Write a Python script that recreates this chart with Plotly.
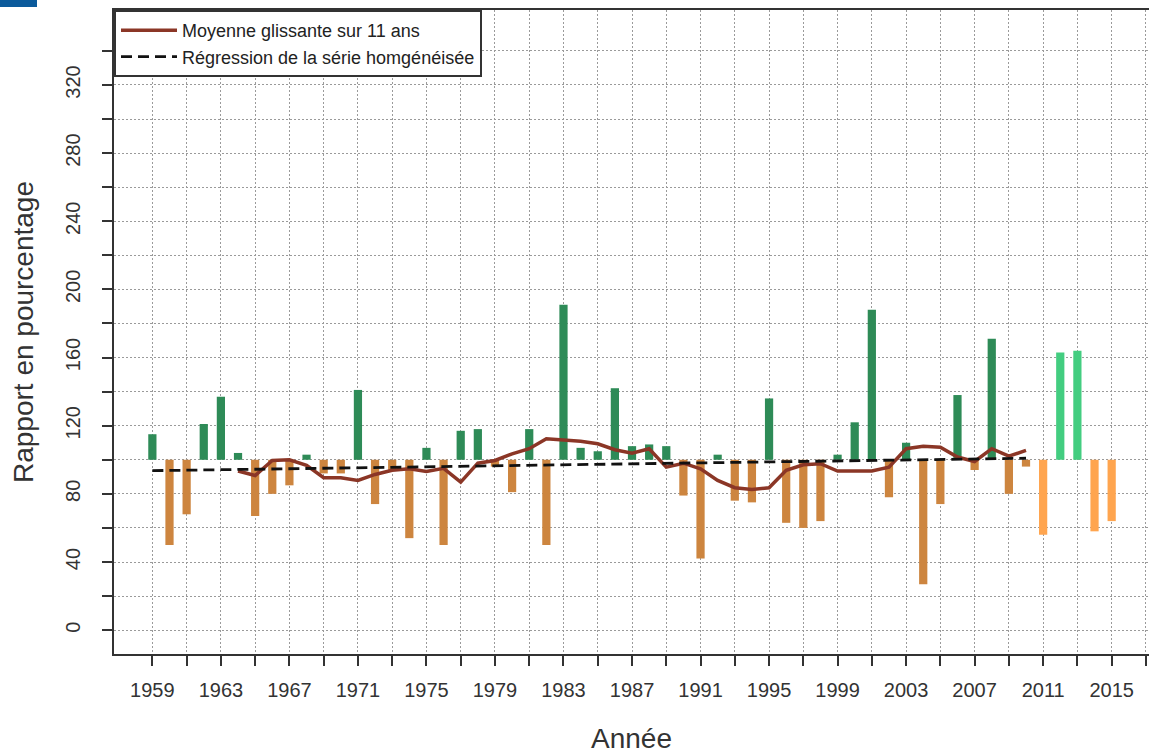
import plotly.graph_objects as go

# ---- data ----
years_homog = list(range(1959, 2011))
values_homog = [115, 50, 68, 121, 137, 104, 67, 80, 85, 103,
                92, 92, 141, 74, 94, 54, 107, 50, 117, 118,
                96, 81, 118, 50, 191, 107, 105, 142, 108, 109,
                108, 79, 42, 103, 76, 75, 136, 63, 60, 64,
                103, 122, 188, 78, 110, 27, 74, 138, 94, 171,
                80, 96]
years_recent = list(range(2011, 2016))
values_recent = [56, 163, 164, 58, 64]

ma_years = list(range(1964, 2011))
ma_values = [93.4, 90.8, 99.6, 100.0, 96.7, 89.5, 89.5, 87.9, 91.4, 93.8,
             94.7, 93.2, 95.0, 86.9, 98.0, 99.6, 103.5, 106.5, 112.3, 111.7,
             110.9, 109.4, 105.9, 103.9, 106.5, 95.7, 98.0, 94.7, 87.9, 83.6,
             82.6, 83.6, 93.8, 97.1, 97.7, 93.4, 93.2, 93.4, 95.7, 106.5,
             108.0, 107.4, 101.6, 99.0, 106.5, 102.1, 105.5]

reg_years = [1959, 2010]
reg_values = [93.6, 100.9]

baseline = 100
y_tickvals = list(range(0, 341, 20))
y_ticktext = [str(v) if v % 40 == 0 else "" for v in y_tickvals]
x_tickvals = list(range(1959, 2018, 2))
x_ticktext = [str(v) if (v - 1959) % 4 == 0 else "" for v in x_tickvals]

C_GREEN = "#2E8B57"
C_ORANGE = "#CD853F"
C_GREEN_L = "#43CD80"
C_ORANGE_L = "#FFA54F"
C_MA = "#8B3626"

fig = go.Figure()


def add_bars(xs, vals, color):
    fig.add_trace(go.Bar(
        x=xs, y=[v - baseline for v in vals], base=baseline,
        marker=dict(color=color, line=dict(width=0)),
        width=0.48, showlegend=False, hoverinfo="x+text",
        text=[str(v) for v in vals], textposition="none",
    ))


def split(xs, vals):
    up = [(x, v) for x, v in zip(xs, vals) if v >= baseline]
    dn = [(x, v) for x, v in zip(xs, vals) if v < baseline]
    return ([a for a, _ in up], [b for _, b in up]), ([a for a, _ in dn], [b for _, b in dn])


(hu_x, hu_v), (hd_x, hd_v) = split(years_homog, values_homog)
(ru_x, ru_v), (rd_x, rd_v) = split(years_recent, values_recent)
add_bars(hu_x, hu_v, C_GREEN)
add_bars(hd_x, hd_v, C_ORANGE)
add_bars(ru_x, ru_v, C_GREEN_L)
add_bars(rd_x, rd_v, C_ORANGE_L)

fig.add_trace(go.Scatter(
    x=ma_years, y=ma_values, mode="lines",
    line=dict(color=C_MA, width=3.5),
    name="Moyenne glissante sur 11 ans",
))
fig.add_trace(go.Scatter(
    x=reg_years, y=reg_values, mode="lines",
    line=dict(color="#111111", width=2.8, dash="11px,6px"),
    name="Régression de la série homgénéisée",
))

tickfont = dict(family="Liberation Sans, Arial, sans-serif", size=20, color="#333333")

fig.update_layout(
    width=1149, height=753,
    margin=dict(l=114, r=0, t=10, b=99),
    paper_bgcolor="white", plot_bgcolor="white",
    barmode="overlay",
    font=dict(family="Liberation Sans, Arial, sans-serif", color="#333333"),
    xaxis=dict(
        range=[1956.76, 2017.18],
        tickmode="array", tickvals=x_tickvals, ticktext=x_ticktext,
        ticks="outside", ticklen=10, tickwidth=1.5, tickcolor="#333333",
        tickfont=tickfont, ticklabelstandoff=7,
        showline=True, linecolor="#333333", linewidth=2, mirror=True,
        showgrid=True, gridcolor="#9a9a9a", gridwidth=1, griddash="2px,2px",
        zeroline=False,
    ),
    yaxis=dict(
        range=[-14, 364],
        tickmode="array", tickvals=y_tickvals, ticktext=y_ticktext,
        ticks="outside", ticklen=10, tickwidth=1.5, tickcolor="#333333",
        tickfont=tickfont, tickangle=-90, ticklabelstandoff=14,
        showline=True, linecolor="#333333", linewidth=2, mirror=False,
        showgrid=True, gridcolor="#9a9a9a", gridwidth=1, griddash="2px,2px",
        zeroline=False,
    ),
    legend=dict(
        x=0, y=1, xanchor="left", yanchor="top",
        bgcolor="white", bordercolor="#333333", borderwidth=2,
        font=dict(size=18, color="#222222"), itemwidth=56,
    ),
    annotations=[
        dict(text="Année", xref="paper", yref="paper", x=0.5, y=(654 - 738) / 644,
             xanchor="center", yanchor="middle", showarrow=False,
             font=dict(size=28, color="#333333")),
        dict(text="Rapport en pourcentage", xref="paper", yref="paper",
             x=(23 - 114) / 1035, y=0.5, textangle=-90,
             xanchor="center", yanchor="middle", showarrow=False,
             font=dict(size=28, color="#333333")),
    ],
    shapes=[
        dict(type="rect", xref="paper", yref="paper",
             x0=-114 / 1035, x1=(37 - 114) / 1035,
             y0=(654 - 7) / 644, y1=(654 + 2) / 644,
             fillcolor="#0B5A9B", line=dict(width=0), layer="above"),
    ],
)

fig.write_html(
    "out.html",
    config={"displayModeBar": False},
    post_script="document.body.style.margin='0';document.body.style.overflow='hidden';",
)
